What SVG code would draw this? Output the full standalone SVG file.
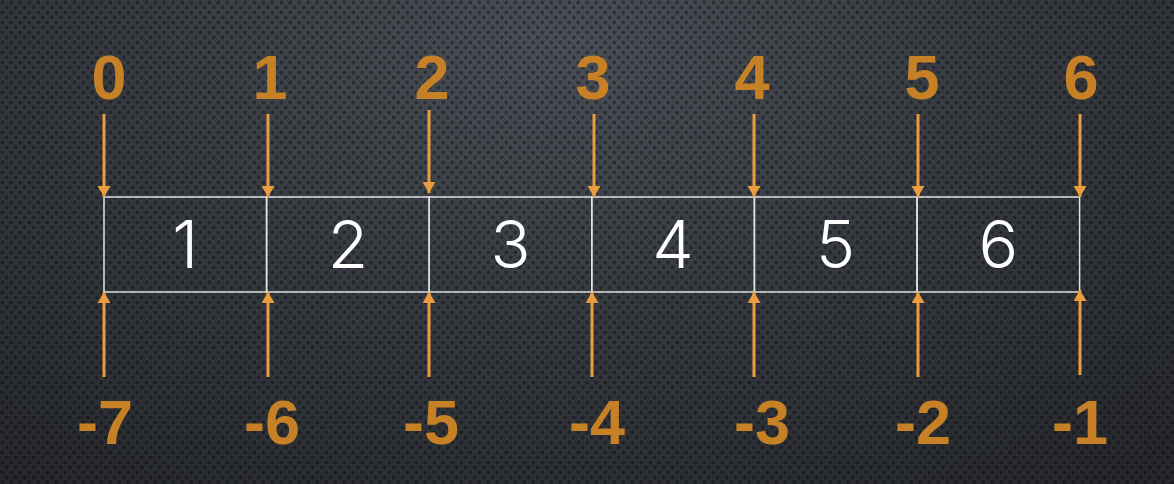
<svg xmlns="http://www.w3.org/2000/svg" width="1174" height="484" viewBox="0 0 1174 484">
  <defs>
    <radialGradient id="bg" cx="560" cy="40" r="900" gradientUnits="userSpaceOnUse" gradientTransform="translate(560 40) scale(1 0.6) translate(-560 -40)">
      <stop offset="0" stop-color="#4a4f57"/>
      <stop offset="0.5" stop-color="#363a40"/>
      <stop offset="1" stop-color="#26282c"/>
    </radialGradient>
    <pattern id="dots" width="9" height="10" patternUnits="userSpaceOnUse">
      <circle cx="2.25" cy="2.5" r="1.9" fill="#000" fill-opacity="0.35"/>
      <circle cx="6.75" cy="7.5" r="1.9" fill="#000" fill-opacity="0.35"/>
    </pattern>
    <marker id="ah" viewBox="0 0 11 13" refX="11" refY="6.5" markerWidth="11" markerHeight="13" markerUnits="userSpaceOnUse" orient="auto">
      <path d="M0,0 L11,6.5 L0,13 Z" fill="#e99d3e"/>
    </marker>
    <style>
      .lbl { font-family: "Liberation Sans", Arial, sans-serif; font-weight: bold; font-size: 63px; fill: #c68026; text-anchor: middle; }
      .num { font-family: Inter, "DejaVu Sans", sans-serif; font-weight: 300; font-size: 66px; fill: #ffffff; text-anchor: middle; }
      .cell { fill: none; stroke: #e2e2e2; stroke-width: 1.5; }
      .arr { stroke: #e99d3e; stroke-width: 3; fill: none; marker-end: url(#ah); }
    </style>
  </defs>
  <rect width="1174" height="484" fill="url(#bg)"/>
  <rect width="1174" height="484" fill="url(#dots)"/>

  <g id="cells">
    <g id="cell1"><rect class="cell" x="104" y="197" width="162.6" height="95"/><text class="num" x="185.3" y="268">1</text></g>
    <g id="cell2"><rect class="cell" x="266.6" y="197" width="162.6" height="95"/><text class="num" x="347.9" y="268">2</text></g>
    <g id="cell3"><rect class="cell" x="429.2" y="197" width="162.6" height="95"/><text class="num" x="510.5" y="268">3</text></g>
    <g id="cell4"><rect class="cell" x="591.8" y="197" width="162.6" height="95"/><text class="num" x="673.1" y="268">4</text></g>
    <g id="cell5"><rect class="cell" x="754.4" y="197" width="162.6" height="95"/><text class="num" x="835.7" y="268">5</text></g>
    <g id="cell6"><rect class="cell" x="917" y="197" width="162.6" height="95"/><text class="num" x="998.3" y="268">6</text></g>
  </g>

  <g id="top-labels">
    <text id="t0" class="lbl" x="109" y="99">0</text>
    <text id="t1" class="lbl" x="270" y="99">1</text>
    <text id="t2" class="lbl" x="432" y="99">2</text>
    <text id="t3" class="lbl" x="593" y="99">3</text>
    <text id="t4" class="lbl" x="752" y="99">4</text>
    <text id="t5" class="lbl" x="922" y="99">5</text>
    <text id="t6" class="lbl" x="1081" y="99">6</text>
  </g>

  <g id="bottom-labels">
    <text id="b7" class="lbl" x="105" y="444">-7</text>
    <text id="b6" class="lbl" x="272" y="444">-6</text>
    <text id="b5" class="lbl" x="431" y="444">-5</text>
    <text id="b4" class="lbl" x="597" y="444">-4</text>
    <text id="b3" class="lbl" x="762" y="444">-3</text>
    <text id="b2" class="lbl" x="923" y="444">-2</text>
    <text id="b1" class="lbl" x="1080" y="444">-1</text>
  </g>

  <g id="connectors">
    <line class="arr" x1="104" y1="114" x2="104" y2="197"/>
    <line class="arr" x1="268" y1="114" x2="268" y2="197"/>
    <line class="arr" x1="429" y1="110" x2="429" y2="193"/>
    <line class="arr" x1="594" y1="114" x2="594" y2="197"/>
    <line class="arr" x1="754" y1="114" x2="754" y2="197"/>
    <line class="arr" x1="918" y1="114" x2="918" y2="197"/>
    <line class="arr" x1="1080" y1="114" x2="1080" y2="197"/>

    <line class="arr" x1="104" y1="377" x2="104" y2="292"/>
    <line class="arr" x1="268" y1="377" x2="268" y2="292"/>
    <line class="arr" x1="429" y1="377" x2="429" y2="292"/>
    <line class="arr" x1="592" y1="377" x2="592" y2="292"/>
    <line class="arr" x1="754" y1="377" x2="754" y2="292"/>
    <line class="arr" x1="918" y1="377" x2="918" y2="292"/>
    <line class="arr" x1="1080" y1="375" x2="1080" y2="290"/>
  </g>
</svg>
